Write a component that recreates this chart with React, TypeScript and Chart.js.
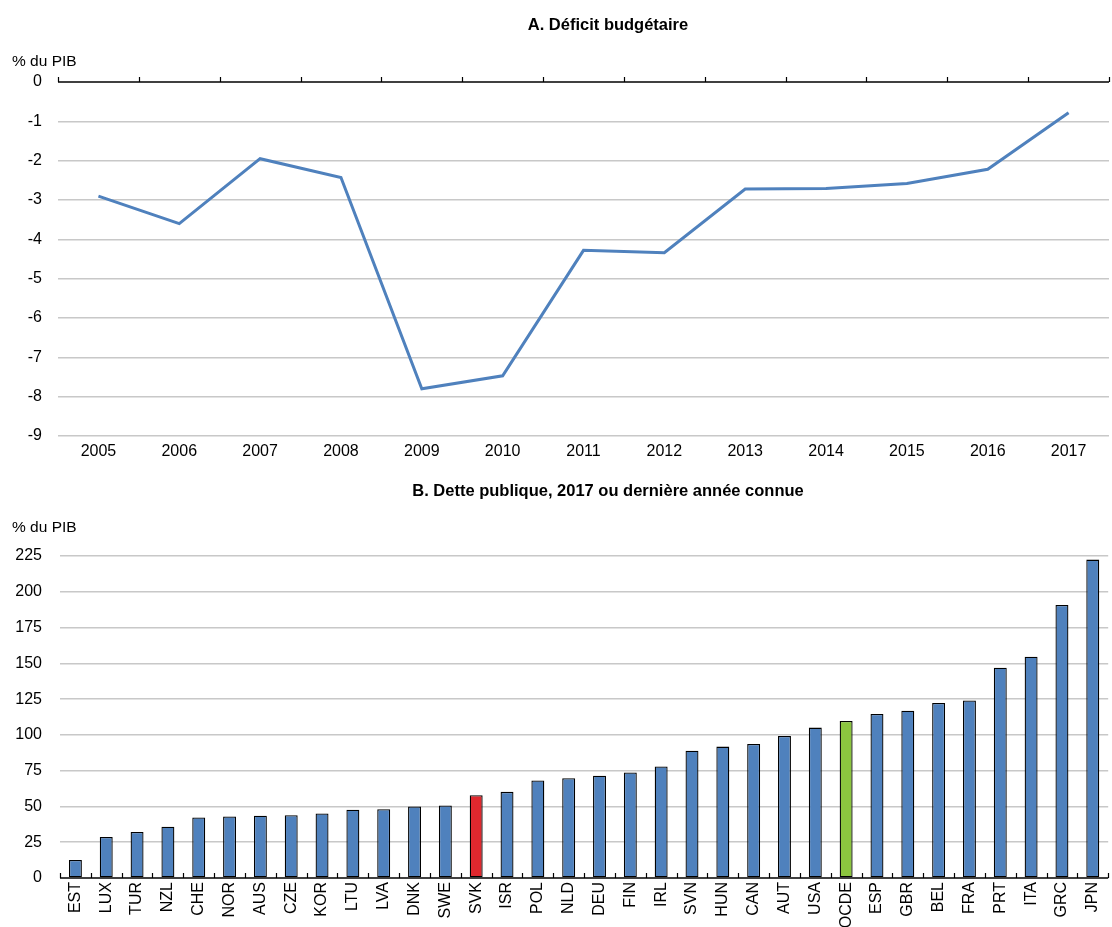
import React, { useEffect, useRef } from 'react';
import { Chart, registerables } from 'chart.js';

Chart.register(...registerables);

// ---- Data ----
const years: string[] = ['2005', '2006', '2007', '2008', '2009', '2010', '2011', '2012', '2013', '2014', '2015', '2016', '2017'];
const deficit: number[] = [-2.9, -3.6, -1.95, -2.43, -7.8, -7.47, -4.28, -4.34, -2.72, -2.71, -2.58, -2.22, -0.78];

const countries: string[] = ['EST', 'LUX', 'TUR', 'NZL', 'CHE', 'NOR', 'AUS', 'CZE', 'KOR', 'LTU', 'LVA', 'DNK', 'SWE', 'SVK', 'ISR', 'POL', 'NLD', 'DEU', 'FIN', 'IRL', 'SVN', 'HUN', 'CAN', 'AUT', 'USA', 'OCDE', 'ESP', 'GBR', 'BEL', 'FRA', 'PRT', 'ITA', 'GRC', 'JPN'];
const debt: number[] = [12.6, 28.6, 32.1, 35.8, 42.3, 43.0, 43.5, 43.9, 45.1, 47.7, 48.1, 50.0, 50.7, 57.9, 60.2, 68.1, 69.7, 71.4, 73.7, 77.9, 89.0, 91.8, 93.7, 99.3, 105.1, 109.7, 114.6, 116.9, 122.3, 124.1, 146.9, 154.6, 190.8, 222.5];

const titleA = 'A. Déficit budgétaire';
const titleB = 'B. Dette publique, 2017 ou dernière année connue';
const unitLabel = '% du PIB';
const redCountry = 'SVK';
const greenCountry = 'OCDE';

const FONT = "'Liberation Sans', Arial, Helvetica, sans-serif";
const BLUE = '#4f81bd';
const RED = '#e0282e';
const GREEN = '#8cc63f';
const GRID = '#c8c8c8';

const axisPlugin = {
  id: 'axisTicks',
  afterDatasetsDraw(chart: any) {
    const x = chart.scales.x;
    const y = chart.scales.y;
    const y0 = y.getPixelForValue(0);
    const ctx = chart.ctx;
    const n = chart.data.labels.length;
    const w = (x.right - x.left) / n;
    ctx.save();
    ctx.strokeStyle = '#000';
    ctx.lineWidth = 1.6;
    ctx.beginPath();
    ctx.moveTo(x.left, y0);
    ctx.lineTo(x.right, y0);
    ctx.stroke();
    ctx.lineWidth = 1.2;
    ctx.beginPath();
    for (let i = 0; i <= n; i++) {
      const px = Math.round(x.left + i * w) + 0.5;
      ctx.moveTo(px, y0);
      ctx.lineTo(px, y0 - 5);
    }
    ctx.stroke();
    ctx.restore();
  },
};

const textPlugin = {
  id: 'panelText',
  afterDraw(chart: any, _args: any, opts: any) {
    const ctx = chart.ctx;
    ctx.save();
    ctx.fillStyle = '#000';
    ctx.textBaseline = 'middle';
    ctx.textAlign = 'center';
    ctx.font = `bold 16.5px ${FONT}`;
    ctx.fillText(opts.title, opts.titleX, opts.titleY);
    ctx.textAlign = 'left';
    ctx.font = `15.5px ${FONT}`;
    ctx.fillText(opts.unit, opts.unitX, opts.unitY);
    ctx.restore();
  },
};

function DeficitChart() {
  const ref = useRef<HTMLCanvasElement>(null);
  useEffect(() => {
    if (!ref.current) return;
    const chart = new Chart(ref.current, {
      type: 'line',
      data: {
        labels: years,
        datasets: [
          {
            data: deficit,
            borderColor: BLUE,
            borderWidth: 3,
            pointRadius: 0,
            tension: 0,
            fill: false,
          },
        ],
      },
      options: {
        animation: false,
        responsive: false,
        maintainAspectRatio: false,
        layout: { padding: { top: 82, right: 3, left: 0, bottom: 0 } },
        plugins: {
          legend: { display: false },
          tooltip: { enabled: false },
          panelText: { title: titleA, titleX: 608, titleY: 25, unit: unitLabel, unitX: 12, unitY: 62 },
        } as any,
        scales: {
          x: {
            type: 'category',
            offset: true,
            grid: { display: false, drawTicks: false },
            border: { display: false },
            ticks: { color: '#000', font: { family: FONT, size: 16 }, padding: 6, maxRotation: 0, autoSkip: false },
            afterFit: (s: any) => { s.height = 29; },
          },
          y: {
            min: -9,
            max: 0,
            ticks: { stepSize: 1, color: '#000', font: { family: FONT, size: 16 }, padding: 16 },
            grid: {
              drawTicks: false,
              lineWidth: 1.5,
              color: (c: any) => (c.tick && c.tick.value === 0 ? 'rgba(0,0,0,0)' : GRID),
            },
            border: { display: false },
            afterFit: (s: any) => { s.width = 58; },
          },
        },
      },
      plugins: [axisPlugin, textPlugin],
    });
    return () => chart.destroy();
  }, []);
  return <canvas ref={ref} width={1112} height={465} style={{ display: 'block', width: 1112, height: 465 }} />;
}

function DebtChart() {
  const ref = useRef<HTMLCanvasElement>(null);
  useEffect(() => {
    if (!ref.current) return;
    const colors = countries.map((c) => (c === redCountry ? RED : c === greenCountry ? GREEN : BLUE));
    const chart = new Chart(ref.current, {
      type: 'bar',
      data: {
        labels: countries,
        datasets: [
          {
            data: debt,
            backgroundColor: colors,
            borderColor: '#000',
            borderWidth: 1.3,
            borderSkipped: false,
            categoryPercentage: 1,
            barPercentage: 0.42,
          },
        ],
      },
      options: {
        animation: false,
        responsive: false,
        maintainAspectRatio: false,
        layout: { padding: { top: 91, right: 2, left: 0, bottom: 0 } },
        plugins: {
          legend: { display: false },
          tooltip: { enabled: false },
          panelText: { title: titleB, titleX: 608, titleY: 26, unit: unitLabel, unitX: 12, unitY: 63 },
        } as any,
        scales: {
          x: {
            type: 'category',
            offset: true,
            grid: { display: false, drawTicks: false },
            border: { display: false },
            ticks: {
              color: '#000',
              font: { family: FONT, size: 16 },
              padding: 4,
              minRotation: 90,
              maxRotation: 90,
              autoSkip: false,
            },
            afterFit: (s: any) => { s.height = 49; },
          },
          y: {
            min: 0,
            max: 225,
            ticks: { stepSize: 25, color: '#000', font: { family: FONT, size: 16 }, padding: 18 },
            grid: {
              drawTicks: false,
              lineWidth: 1.5,
              color: (c: any) => (c.tick && c.tick.value === 0 ? 'rgba(0,0,0,0)' : GRID),
            },
            border: { display: false },
            afterFit: (s: any) => { s.width = 60; },
          },
        },
      },
      plugins: [axisPlugin, textPlugin],
    });
    return () => chart.destroy();
  }, []);
  return <canvas ref={ref} width={1116} height={462} style={{ display: 'block', width: 1116, height: 462 }} />;
}

export default function App() {
  return (
    <div style={{ position: 'absolute', left: 0, top: 0, width: 1112, height: 927, overflow: 'hidden', background: '#fff' }}>
      <DeficitChart />
      <DebtChart />
    </div>
  );
}
